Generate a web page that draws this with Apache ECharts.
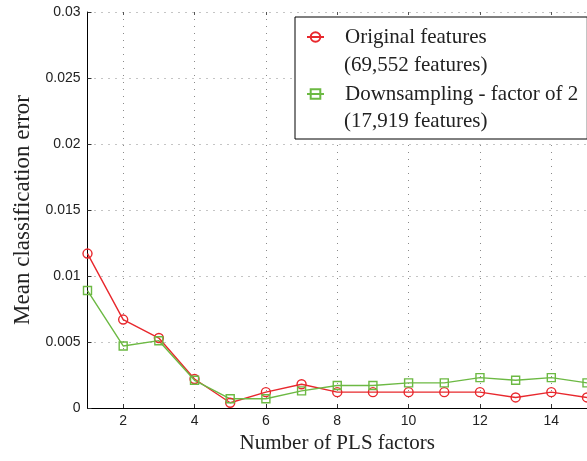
<!DOCTYPE html>
<html>
<head>
<meta charset="utf-8">
<script src="https://cdn.jsdelivr.net/npm/echarts@6/dist/echarts.min.js"></script>
<style>
  html, body { margin: 0; padding: 0; background: #fff; }
  #chart { width: 587px; height: 461px; }
</style>
</head>
<body>
<div id="chart"></div>
<script>
// Number of PLS factors (x categories)
const factors = ['1', '2', '3', '4', '5', '6', '7', '8', '9', '10', '11', '12', '13', '14', '15'];

// Mean classification error per number of PLS factors
const originalError = [0.0117, 0.0067, 0.0053, 0.0022, 0.0004, 0.0012, 0.0018, 0.0012, 0.0012, 0.0012, 0.0012, 0.0012, 0.0008, 0.0012, 0.0008];
const downsampledError = [0.0089, 0.0047, 0.0051, 0.0021, 0.0007, 0.0007, 0.0013, 0.0017, 0.0017, 0.0019, 0.0019, 0.0023, 0.0021, 0.0023, 0.0019];

// Series names and the second legend line for each
const seriesNames = ['Original features', 'Downsampling - factor of 2'];
const featureCounts = ['(69,552 features)', '(17,919 features)'];

const RED = '#e8282d';
const GREEN = '#6cb943';
const SERIF = '"Liberation Serif", "DejaVu Serif", serif';
const SANS = '"Liberation Sans", Arial, sans-serif';
const GRID_DOTS = { color: '#8a8a8a', type: [1, 6], width: 1 };

// only even factors get a label, tick and grid line
const evenOnly = (index) => index % 2 === 1;

const chart = echarts.init(document.getElementById('chart'), null, { renderer: 'canvas' });

chart.setOption({
  animation: false,
  backgroundColor: '#fff',
  grid: { left: 87.5, right: -4, top: 12, bottom: 53 },
  xAxis: [{
    type: 'category',
    data: factors,
    boundaryGap: false,
    name: 'Number of PLS factors',
    nameLocation: 'middle',
    nameGap: 18,
    nameTextStyle: { fontFamily: SERIF, fontSize: 21, color: '#222' },
    axisLine: { show: true, lineStyle: { color: '#000', width: 1 } },
    axisTick: { show: true, inside: true, length: 4, interval: evenOnly, lineStyle: { color: '#333' } },
    axisLabel: { interval: evenOnly, margin: 6, fontFamily: SANS, fontSize: 14, color: '#222' },
    splitLine: { show: true, interval: evenOnly, lineStyle: GRID_DOTS }
  }, {
    type: 'category',
    data: factors,
    boundaryGap: false,
    position: 'top',
    axisLine: { show: false },
    axisTick: { show: true, inside: true, length: 3, interval: evenOnly, lineStyle: { color: '#555' } },
    axisLabel: { show: false },
    splitLine: { show: false }
  }],
  yAxis: {
    type: 'value',
    min: 0,
    max: 0.03,
    interval: 0.005,
    name: 'Mean classification error',
    nameLocation: 'middle',
    nameGap: 53,
    nameTextStyle: { fontFamily: SERIF, fontSize: 23, color: '#222' },
    axisLine: { show: true, lineStyle: { color: '#000', width: 1 } },
    axisTick: { show: true, inside: true, length: 4, lineStyle: { color: '#333' } },
    axisLabel: { margin: 7, fontFamily: SANS, fontSize: 14, color: '#222' },
    splitLine: { show: true, lineStyle: GRID_DOTS }
  },
  legend: {
    orient: 'vertical',
    left: 295,
    top: 17,
    padding: [6, 9, 31, 11],
    itemWidth: 17,
    itemHeight: 12,
    itemGap: 29,
    backgroundColor: '#fff',
    borderColor: '#000',
    borderWidth: 1,
    borderRadius: 0,
    data: seriesNames,
    textStyle: { fontFamily: SERIF, fontSize: 21, lineHeight: 28, color: '#222', padding: [0, 0, 0, 16] }
  },
  graphic: featureCounts.map((txt, i) => ({
    type: 'text',
    x: 344,
    y: 65 + i * 56,
    z: 100,
    style: { text: txt, font: '21px ' + SERIF, fill: '#222', verticalAlign: 'middle' }
  })),
  series: [{
    name: seriesNames[0],
    type: 'line',
    data: originalError,
    symbol: 'circle',
    symbolSize: 9,
    showAllSymbol: true,
    lineStyle: { color: RED, width: 1.4 },
    itemStyle: { color: 'rgba(255,255,255,0)', borderColor: RED, borderWidth: 1.4 }
  }, {
    name: seriesNames[1],
    type: 'line',
    data: downsampledError,
    symbol: 'rect',
    symbolSize: 8,
    showAllSymbol: true,
    lineStyle: { color: GREEN, width: 1.4 },
    itemStyle: { color: 'rgba(255,255,255,0)', borderColor: GREEN, borderWidth: 1.4 }
  }]
});
</script>
</body>
</html>
